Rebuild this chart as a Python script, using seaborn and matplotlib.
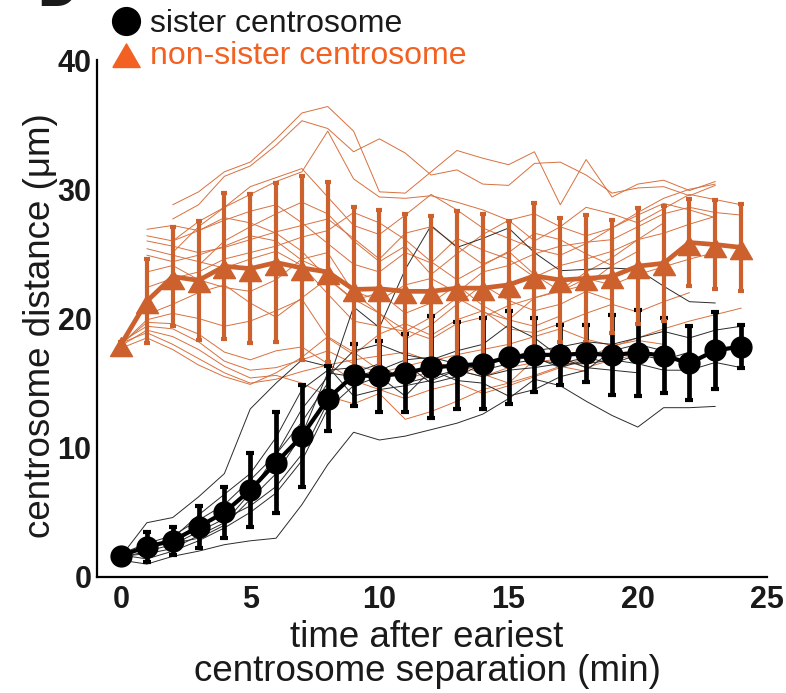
import numpy as np
import pandas as pd
import matplotlib
matplotlib.use("Agg")
import matplotlib.pyplot as plt
from matplotlib.lines import Line2D
import seaborn as sns

# ---- data -------------------------------------------------------------
time_min = list(range(25))

sister_mean = [1.65, 2.35, 2.80, 3.88, 5.00, 6.72, 8.85, 10.90, 13.79, 15.60,
               15.54, 15.78, 16.22, 16.36, 16.49, 17.00, 17.19, 17.18, 17.30,
               17.17, 17.36, 17.13, 16.54, 17.53, 17.83]
sister_sd = [0.30, 1.17, 1.10, 1.65, 1.95, 2.89, 3.91, 3.94, 2.50, 2.40,
             2.75, 3.00, 3.95, 3.34, 3.52, 3.60, 2.85, 2.32, 2.19,
             3.10, 3.33, 2.90, 2.85, 2.95, 1.67]

nonsister_mean = [18.00, 21.34, 23.24, 22.95, 24.04, 23.86, 24.33, 23.91, 23.60,
                  22.25, 22.30, 22.10, 22.10, 22.35, 22.35, 22.60, 23.30, 22.98,
                  23.10, 23.25, 24.05, 24.27, 25.88, 25.72, 25.50]
nonsister_sd = [0.20, 3.27, 3.85, 4.62, 5.66, 5.79, 6.13, 7.13, 6.98, 6.40,
                6.10, 6.00, 5.80, 6.00, 5.70, 4.95, 5.60, 4.83, 4.90, 4.38,
                4.48, 4.44, 3.33, 3.43, 3.34]

# individual sister pairs (all start at t = 0)
sister_traces = [
    [1.8, 2.6, 3.2, 4.4, 5.6, 7.5, 9.5, 12.0, 15.0, 20.9, 19.3, 23.8, 27.2, 25.5,
     26.2, 27.0, 25.1, 23.7, 23.8, 23.9, 23.8, 22.5, 21.3, 21.2],
    [1.3, 1.0, 1.6, 2.0, 2.5, 2.8, 3.0, 5.6, 8.7, 11.2, 10.6, 10.9, 11.4, 11.9,
     12.6, 13.8, 15.3, 14.8, 13.6, 12.5, 11.6, 13.1, 13.1, 13.2],
    [1.5, 2.0, 2.5, 3.5, 4.5, 5.5, 7.0, 9.5, 13.5, 15.8, 16.5, 15.0, 15.5, 16.0,
     16.5, 17.0, 17.5, 17.8, 18.2, 18.0, 18.5, 19.0, 18.5, 19.1, 19.4],
    [1.6, 2.5, 2.6, 3.0, 4.0, 6.0, 8.0, 11.0, 15.8, 15.5, 16.0, 16.8, 17.0, 16.5,
     16.0, 16.5, 16.8, 16.5, 16.5, 16.8, 16.5, 16.0, 16.0, 16.6, 16.2],
    [1.8, 2.2, 3.0, 4.8, 6.4, 8.0, 10.8, 14.5, 16.0, 16.2, 15.0, 16.5, 15.0, 15.5,
     16.5, 16.8, 17.0, 16.2, 16.8],
    [1.6, 4.2, 4.6, 6.2, 8.0, 13.0, 15.0, 16.8, 16.3, 14.0, 14.5, 14.8, 15.2, 16.0,
     15.5, 16.0, 16.2, 16.5, 17.0, 16.5, 17.2, 16.8, 17.4],
    [1.7, 1.4, 2.0, 2.8, 3.8, 5.0, 6.5, 9.0, 13.0, 14.8, 15.5, 14.0, 16.0, 15.2,
     15.0, 14.0, 14.5, 15.5, 16.0, 17.5, 18.0, 17.5],
    [1.6, 1.8, 2.2, 3.2, 4.2, 6.5, 9.5, 13.0, 15.5, 17.5, 18.0, 17.2, 16.8, 17.5,
     18.0, 19.5, 18.5, 17.0, 16.2, 16.0, 15.8],
]

# individual non-sister pairs: first tracked time point and distances
nonsister_starts = [0, 0, 0, 0, 0, 0, 1, 1, 1, 1, 1, 2, 2, 1, 2, 3, 1, 1, 2]
nonsister_traces = [
    [18.0, 19.7, 19.6, 18.8, 17.4, 16.8, 17.5, 17.8, 16.5, 15.2, 14.5, 13.8, 14.5,
     15.0, 14.2, 14.8, 15.5, 16.2, 17.0, 17.8, 18.5, 19.2, 19.8, 20.3, 20.8],
    [18.2, 19.4, 19.2, 18.2, 16.7, 16.0, 16.2, 16.8, 17.5, 16.5, 15.8, 16.3, 16.8,
     16.0, 15.5, 16.2, 16.6, 16.9, 16.2, 16.8, 17.2],
    [17.9, 19.1, 18.6, 17.6, 16.3, 15.4, 15.6, 15.0, 14.0, 13.4, 14.2, 12.2, 12.8,
     13.6, 14.5, 15.0, 16.8],
    [18.1, 18.9, 18.0, 16.9, 15.8, 15.0, 15.3, 15.9, 16.4, 16.8, 17.1, 17.4, 16.7,
     17.2, 17.6, 18.0, 18.6, 19.2, 18.4, 17.9, 18.3, 18.0],
    [17.7, 18.5, 17.6, 16.4, 15.5, 14.9, 15.8, 17.0, 18.6, 17.4, 16.0, 15.3, 15.9,
     16.5, 15.7, 15.0, 15.6, 16.3, 15.9],
    [18.0, 19.9, 20.4, 20.0, 19.4, 19.8, 20.6, 21.5, 18.5, 17.2, 18.8, 19.6, 18.7,
     19.9, 20.6, 19.2, 18.9, 19.6, 20.4, 21.1, 20.5, 21.3, 22.0],
    [26.9, 27.2, 26.8, 27.6, 28.3, 28.8, 27.4, 25.8, 24.2, 23.6, 25.1, 24.3, 26.2,
     25.3, 24.6, 23.2, 24.1, 24.6, 25.2, 26.1, 26.6, 27.3, 27.9],
    [26.4, 26.0, 26.8, 27.8, 27.4, 26.6, 25.2, 23.1, 21.4, 22.0, 20.4, 21.2, 22.6,
     21.0, 19.9, 21.6, 22.2, 23.6, 24.7, 26.1, 27.4],
    [26.0, 25.6, 25.1, 25.5, 26.1, 26.7, 27.2, 27.7, 26.2, 24.6, 26.6, 27.1, 25.6,
     24.2, 25.1, 26.6, 26.1, 25.0, 24.1],
    [25.4, 24.9, 24.4, 23.9, 24.6, 25.2, 24.1, 21.9, 19.8, 19.4, 19.0, 20.1, 21.6,
     20.5, 19.9, 19.4, 20.2],
    [24.9, 24.4, 24.9, 25.6, 26.4, 26.0, 24.5, 23.6, 22.1, 21.4, 22.6, 23.1, 22.0,
     23.6, 24.1, 25.0, 25.6, 25.9, 26.1, 27.1, 28.1, 28.6, 28.2, 28.0],
    [28.8, 29.8, 31.35, 32.1, 33.9, 35.9, 36.4, 34.5, 29.8, 29.7, 31.35, 33.0, 32.4,
     31.9, 32.9, 28.8, 32.3, 29.4, 30.4, 30.7, 29.9, 30.6],
    [27.7, 28.8, 31.0, 31.8, 33.4, 35.3, 34.7, 32.9, 33.9, 32.8, 31.1, 31.5, 30.4,
     30.3, 32.0, 32.1, 31.1, 29.7, 30.1, 30.2, 29.5, 30.3],
    [22.4, 23.1, 23.6, 24.6, 25.1, 25.6, 26.3, 26.8, 28.2, 27.4, 26.1, 24.4, 23.0,
     24.1, 25.2, 23.4, 22.1, 22.6, 24.1, 25.2],
    [25.1, 27.1, 28.6, 29.6, 30.6, 31.35, 34.5, 30.8, 29.4, 29.3, 29.5, 29.0, 28.4,
     27.6, 28.1, 27.1, 26.4, 27.0, 28.0, 28.9, 28.4, 27.8],
    [24.1, 26.0, 27.1, 28.1, 29.0, 28.1, 26.0, 24.4, 25.6, 23.4, 25.0, 26.5, 27.6,
     26.0, 27.1, 28.6, 28.1, 27.4, 28.5, 29.6, 29.2, 28.8],
    [20.3, 21.1, 22.0, 22.6, 21.2, 20.1, 21.6, 23.1, 21.5, 20.4, 19.1, 18.4, 19.6,
     20.1, 21.0, 21.6, 22.1, 23.1, 22.6, 23.4, 24.0, 24.6, 25.1],
    [23.6, 24.1, 23.0, 22.4, 22.1, 23.0, 24.6, 25.1, 22.0, 20.4, 18.4, 19.5, 21.1,
     22.6, 21.4, 20.6, 21.1, 22.1, 21.4],
    [26.0, 27.5, 28.6, 30.2, 30.9, 31.6, 29.4, 27.2, 26.5, 28.0, 29.6, 28.4, 27.0,
     26.2, 25.4, 24.9, 25.8, 27.0, 28.2, 29.3, 30.0, 30.4],
]

x_ticks = [0, 5, 10, 15, 20, 25]
y_ticks = [0, 10, 20, 30, 40]

# ---- style ------------------------------------------------------------
sns.set_theme(style="white")
plt.rcParams["font.family"] = ["Liberation Sans", "DejaVu Sans"]

BLACK = "#000000"
ORANGE = "#CC612D"
ORANGE_TEXT = "#F26122"
THIN_BLACK = "#2b2b2b"
THIN_ORANGE = "#D8703E"

# triangle whose apex sits a little closer to the data point than its base
tri_marker = [(-11.0, -12.1), (11.0, -12.1), (0.0, 6.9), (-11.0, -12.1)]

# ---- long-form table of the individual traces -------------------------
rows = []
for i, tr in enumerate(sister_traces):
    for t, d in enumerate(tr):
        rows.append(("sister", f"s{i}", t, d))
for i, (s0, tr) in enumerate(zip(nonsister_starts, nonsister_traces)):
    for k, d in enumerate(tr):
        rows.append(("non-sister", f"n{i}", s0 + k, d))
traces = pd.DataFrame(rows, columns=["pair", "cell", "time", "distance"])

fig = plt.figure(figsize=(7.86, 6.93), dpi=100)
ax = fig.add_axes([97 / 786, 1 - 577 / 693, 670 / 786, 517 / 693])

sns.lineplot(data=traces[traces.pair == "non-sister"], x="time", y="distance",
             units="cell", estimator=None, color=THIN_ORANGE, lw=0.7,
             ax=ax, legend=False, zorder=1)
sns.lineplot(data=traces[traces.pair == "sister"], x="time", y="distance",
             units="cell", estimator=None, color=THIN_BLACK, lw=0.7,
             ax=ax, legend=False, zorder=1.5)

# mean +/- SD
ax.errorbar(time_min, sister_mean, yerr=sister_sd, fmt="none", ecolor=BLACK,
            elinewidth=3.4, capsize=3.0, capthick=3.0, zorder=3)
ax.errorbar(time_min, nonsister_mean, yerr=nonsister_sd, fmt="none",
            ecolor=ORANGE, elinewidth=3.0, capsize=2.3, capthick=3.0, zorder=4)
ax.plot(time_min, nonsister_mean, color=ORANGE, lw=3.4, marker=tri_marker,
        ms=17.4, mec=ORANGE, mfc=ORANGE, zorder=5)
ax.plot(time_min, sister_mean, color=BLACK, lw=3.0, marker="o", ms=15,
        mec=BLACK, mfc=BLACK, zorder=6)

# ---- axes -------------------------------------------------------------
ax.set_xlim(-0.93, 25)
ax.set_ylim(0, 40)
ax.set_xticks(x_ticks)
ax.set_yticks(y_ticks)
ax.set_xticklabels([str(v) for v in x_ticks])
ax.set_yticklabels([str(v) for v in y_ticks])
for lab in ax.get_xticklabels() + ax.get_yticklabels():
    lab.set_fontweight("bold")
    lab.set_fontsize(22)
ax.tick_params(axis="both", direction="in", length=5, width=1.2, color="black",
               labelcolor="#1a1a1a")
ax.tick_params(axis="x", pad=6)
ax.tick_params(axis="y", pad=4)
for side in ("top", "right"):
    ax.spines[side].set_visible(False)
for side in ("left", "bottom"):
    ax.spines[side].set_color("black")
    ax.spines[side].set_linewidth(1.6)

ax.set_xlabel("time after eariest\ncentrosome separation (min)", fontsize=26.5,
              color="#1a1a1a", linespacing=0.95)
ax.xaxis.set_label_coords(0.4925, -0.083)
ax.xaxis.label.set_verticalalignment("top")
ax.set_ylabel("centrosome distance (\u03bcm)", fontsize=26.5, color="#1a1a1a")
ax.yaxis.set_label_coords(-0.058, 0.487)

# ---- legend -----------------------------------------------------------
handles = [
    Line2D([], [], ls="none", marker="o", ms=20, color=BLACK),
    Line2D([], [], ls="none", marker=tri_marker, ms=21.6, color=ORANGE_TEXT),
]
leg = fig.legend(handles, ["sister centrosome", "non-sister centrosome"],
                 loc="upper left", bbox_to_anchor=(110 / 786, 1 - 9 / 693),
                 frameon=False, fontsize=23, handlelength=1.0,
                 handletextpad=0.25, labelspacing=0.05, borderpad=0,
                 borderaxespad=0)
leg.get_texts()[0].set_color("#1a1a1a")
leg.get_texts()[1].set_color(ORANGE_TEXT)

# panel letter
fig.text(37 / 786, 1 - 6 / 693, "D", fontsize=40, fontweight="bold",
         color="#1a1a1a", va="baseline", ha="left")

fig.savefig("out.png", dpi=100)
